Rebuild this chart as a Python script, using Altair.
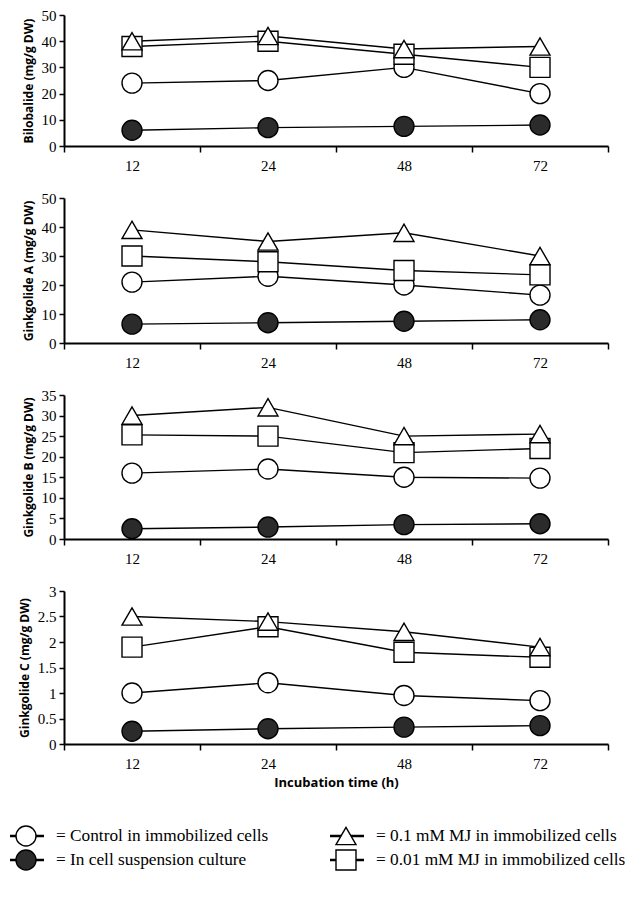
import altair as alt
import pandas as pd

times = ["12", "24", "48", "72"]
series_keys = ["control", "suspension", "mj001", "mj01"]
series_labels = {
    "control": "Control in immobilized cells",
    "suspension": "In cell suspension culture",
    "mj01": "0.1 mM MJ in immobilized cells",
    "mj001": "0.01 mM MJ in immobilized cells",
}

bilobalide = {
    "control": [24, 25, 30, 20],
    "suspension": [6, 7, 7.5, 8],
    "mj01": [40, 42, 37, 38],
    "mj001": [38, 40, 35, 30],
}
ginkgolide_a = {
    "control": [21, 23, 20, 16.5],
    "suspension": [6.5, 7, 7.5, 8],
    "mj01": [39, 35, 38, 30],
    "mj001": [30, 28, 25, 23.5],
}
ginkgolide_b = {
    "control": [16, 17, 15, 14.8],
    "suspension": [2.5, 2.9, 3.5, 3.7],
    "mj01": [30, 32, 25, 25.5],
    "mj001": [25.3, 25, 21, 22],
}
ginkgolide_c = {
    "control": [1.0, 1.2, 0.95, 0.85],
    "suspension": [0.25, 0.3, 0.33, 0.36],
    "mj01": [2.5, 2.4, 2.2, 1.9],
    "mj001": [1.9, 2.3, 1.8, 1.7],
}

shape_range = ["circle", "circle", "square", "triangle-up"]
fill_range = ["white", "#2b2b2b", "white", "white"]
size_range = [400, 400, 470, 520]
legend_size_range = [120, 120, 120, 150]

SERIF = "Liberation Serif"
SANS = "Open Sans"


def panel(title, vals, ymax, step, height, xtitle=None):
    rows = []
    for k in series_keys:
        for t, v in zip(times, vals[k]):
            rows.append({"time": t, "value": v, "series": k})
    df = pd.DataFrame(rows)
    ticks = [round(i * step, 4) for i in range(int(round(ymax / step)) + 1)]
    x = alt.X(
        "time:N",
        sort=times,
        scale=alt.Scale(type="band", paddingInner=0, paddingOuter=0),
        axis=alt.Axis(
            title=xtitle,
            labelAngle=0,
            tickBand="extent",
            tickSize=6,
            labelPadding=6,
            titleFontSize=13,
            titlePadding=5,
        ),
    )
    y = alt.Y(
        "value:Q",
        scale=alt.Scale(domain=[0, ymax], nice=False, zero=True),
        axis=alt.Axis(title=title, values=ticks, format="~r", tickSize=5,
                      labelPadding=3, titlePadding=6),
    )
    sc_shape = alt.Scale(domain=series_keys, range=shape_range)
    sc_fill = alt.Scale(domain=series_keys, range=fill_range)
    sc_size = alt.Scale(domain=series_keys, range=size_range)
    lines = alt.Chart(df).mark_line(color="black", strokeWidth=1.4).encode(
        x=x, y=y, detail="series:N"
    )
    pts = alt.Chart(df).mark_point(
        filled=True, stroke="black", strokeWidth=1.4, opacity=1
    ).encode(
        x=x,
        y=y,
        shape=alt.Shape("series:N", scale=sc_shape, legend=None),
        fill=alt.Fill("series:N", scale=sc_fill, legend=None),
        size=alt.Size("series:N", scale=sc_size, legend=None),
        order=alt.Order("order:Q"),
    ).transform_calculate(
        order="indexof(['control','suspension','mj001','mj01'], datum.series)"
    )
    return alt.layer(lines, pts).properties(width=544, height=height)


p1 = panel("Bilobalide (mg/g DW)", bilobalide, 50, 10, 131)
p2 = panel("Ginkgolide A (mg/g DW)", ginkgolide_a, 50, 10, 145)
p3 = panel("Ginkgolide B (mg/g DW)", ginkgolide_b, 35, 5, 144)
p4 = panel("Ginkgolide C (mg/g DW)", ginkgolide_c, 3, 0.5, 153,
           xtitle="Incubation time (h)")

# legend panel
leg_keys = ["control", "mj01", "suspension", "mj001"]
leg_col = [0, 1, 0, 1]
leg_row = [0, 0, 1, 1]
leg_df = pd.DataFrame({
    "series": leg_keys,
    "col": leg_col,
    "row": leg_row,
    "label": ["= " + series_labels[k] for k in leg_keys],
})
lx = alt.X("col:Q", axis=None, scale=alt.Scale(domain=[0, 1], range=[-38, 282]))
ly = alt.Y("row:Q", axis=None, scale=alt.Scale(domain=[0, 1], range=[10, 34]))
leg_line = alt.Chart(leg_df).mark_rule(
    color="black", strokeWidth=2.5, xOffset=-16, x2Offset=18
).encode(x=lx, x2="col:Q", y=ly)
leg_pts = alt.Chart(leg_df).mark_point(
    filled=True, stroke="black", strokeWidth=1.4, opacity=1
).encode(
    x=lx,
    y=ly,
    shape=alt.Shape("series:N", scale=alt.Scale(domain=series_keys, range=shape_range), legend=None),
    fill=alt.Fill("series:N", scale=alt.Scale(domain=series_keys, range=fill_range), legend=None),
    size=alt.Size("series:N", scale=alt.Scale(domain=series_keys, range=legend_size_range), legend=None),
)
leg_txt = alt.Chart(leg_df).mark_text(
    align="left", baseline="middle", dx=30, font=SERIF, fontSize=17.3, color="black"
).encode(x=lx, y=ly, text="label:N")
legend = alt.layer(leg_line, leg_pts, leg_txt).properties(width=544, height=45)

chart = alt.vconcat(
    alt.vconcat(p1, p2, p3, p4, spacing=18),
    legend,
    spacing=34,
).properties(
    padding={"left": 0, "right": 0, "top": 0, "bottom": 5}
).configure_view(stroke=None).configure_axis(
    grid=False,
    domainColor="black",
    domainWidth=2,
    tickColor="black",
    tickWidth=1.5,
    labelFont=SERIF,
    labelFontSize=15,
    labelColor="black",
    titleFont=SANS,
    titleFontWeight="bold",
    titleFontSize=12,
    titleColor="black",
)

chart.save("out.html", embed_options={"renderer": "svg", "actions": False})
